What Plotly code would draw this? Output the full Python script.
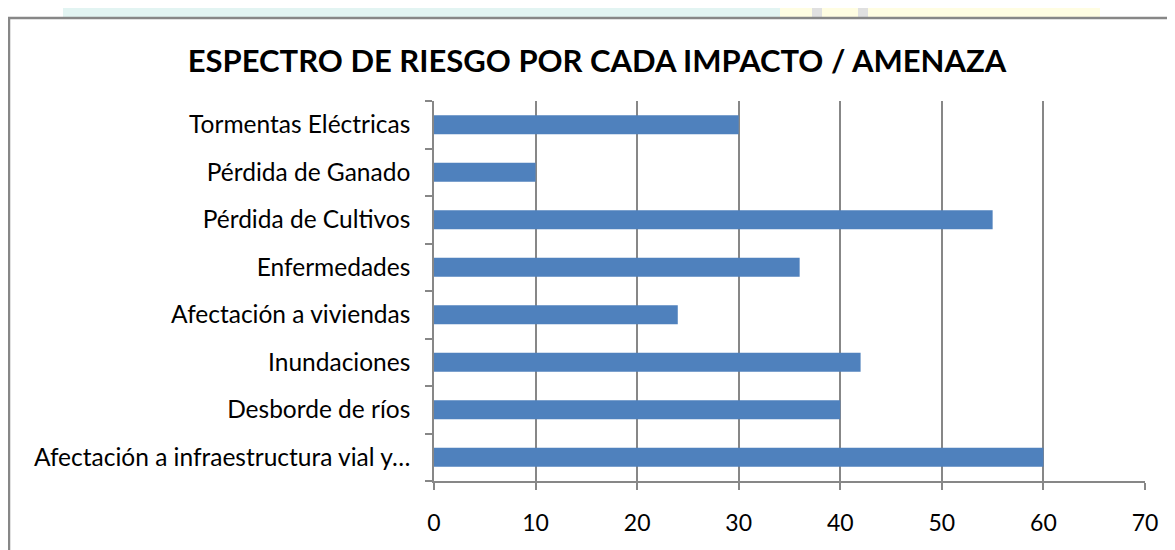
import plotly.graph_objects as go

categories = [
    "Afectación a infraestructura vial y…",
    "Desborde de ríos",
    "Inundaciones",
    "Afectación a viviendas",
    "Enfermedades",
    "Pérdida de Cultivos",
    "Pérdida de Ganado",
    "Tormentas Eléctricas",
]
values = [60, 40, 42, 24, 36, 55, 10, 30]
x_ticks = [0, 10, 20, 30, 40, 50, 60, 70]
title_text = "ESPECTRO DE RIESGO POR CADA IMPACTO / AMENAZA"

# page has an 8px body margin; figure coordinates are screen - 8
OFF = 8
W, H = 1175 - OFF, 550 - OFF
L, R, T, B = 434 - OFF, 30, 101 - OFF, 69
pw, ph = W - L - R, H - T - B

def px_x(p):
    return (p - OFF - L) / pw

def px_y(p):
    return (H - B - (p - OFF)) / ph

fig = go.Figure(go.Bar(
    x=values, y=categories, orientation="h",
    marker=dict(color="#4F81BD", line=dict(width=0)),
    width=0.4,
))

grid = "#878787"
fig.update_layout(
    width=W, height=H,
    margin=dict(l=L, r=R, t=T, b=B),
    paper_bgcolor="white", plot_bgcolor="white",
    font=dict(family="Lato", color="#000000"),
    showlegend=False,
    title=dict(text="<b>" + title_text + "</b>", x=(597 - OFF) / W, xanchor="center",
               y=1 - (61 - OFF) / H, yanchor="middle", yref="container",
               font=dict(size=31, family="Lato", color="#000000")),
    xaxis=dict(range=[0, 70], tickvals=x_ticks, showgrid=True, gridcolor=grid, gridwidth=1.5,
               showline=True, linecolor=grid, linewidth=1.5,
               ticks="outside", ticklen=7, tickcolor=grid, tickwidth=1.5,
               tickfont=dict(size=23), ticklabelstandoff=14, zeroline=False, fixedrange=True),
    yaxis=dict(showline=True, linecolor=grid, linewidth=1.5, showgrid=False,
               ticks="outside", tickson="boundaries", ticklen=7, tickcolor=grid, tickwidth=1.5,
               tickfont=dict(size=24.5), ticklabelstandoff=17, range=[-0.5, 7.5], fixedrange=True),
    shapes=[
        dict(type="rect", xref="paper", yref="paper", x0=px_x(63), x1=px_x(780),
             y0=px_y(17), y1=px_y(-2), fillcolor="#E2F4F2", line=dict(width=0), layer="below"),
        dict(type="rect", xref="paper", yref="paper", x0=px_x(780), x1=px_x(1100),
             y0=px_y(17), y1=px_y(-2), fillcolor="#FFFDE2", line=dict(width=0), layer="below"),
        dict(type="rect", xref="paper", yref="paper", x0=px_x(812), x1=px_x(822),
             y0=px_y(17), y1=px_y(-2), fillcolor="#E0E0E0", line=dict(width=0), layer="below"),
        dict(type="rect", xref="paper", yref="paper", x0=px_x(858), x1=px_x(868),
             y0=px_y(17), y1=px_y(-2), fillcolor="#E0E0E0", line=dict(width=0), layer="below"),
        dict(type="rect", xref="paper", yref="paper", x0=px_x(9), x1=px_x(1200),
             y0=px_y(580), y1=px_y(18), fillcolor="rgba(0,0,0,0)",
             line=dict(color="#878787", width=2.5)),
    ],
)

fig.write_html("out.html")
